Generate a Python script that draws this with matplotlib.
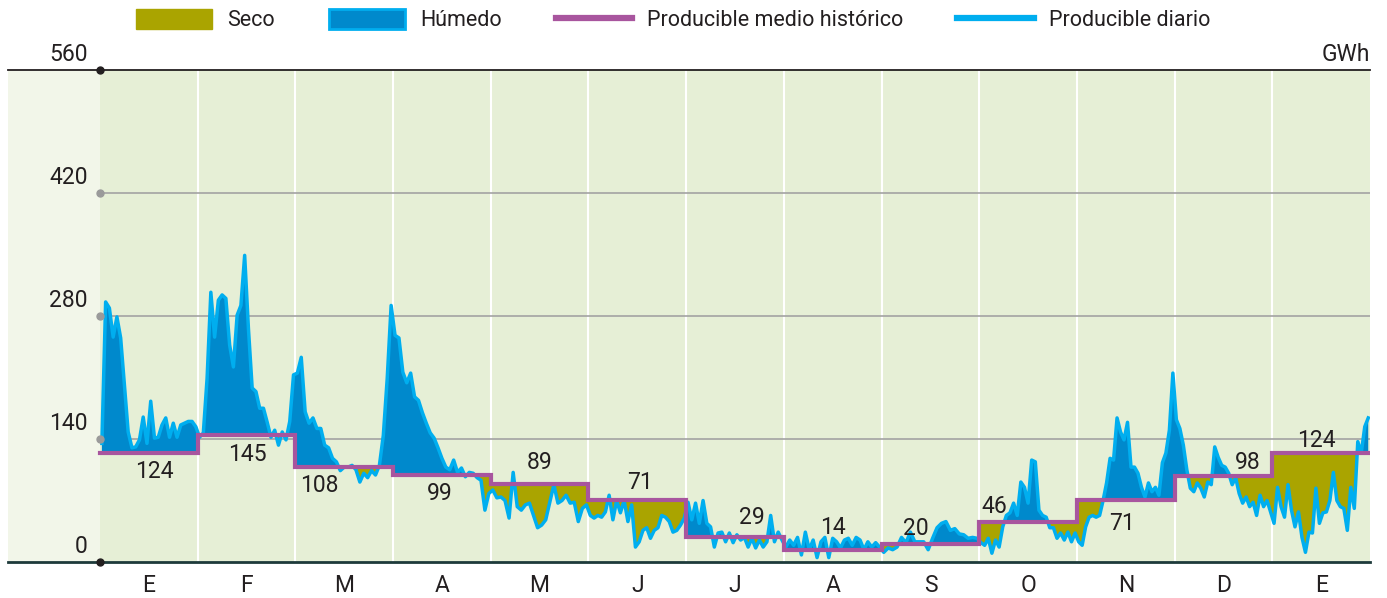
import numpy as np
import matplotlib
matplotlib.use("Agg")
import matplotlib.pyplot as plt
from matplotlib.patches import Patch
from matplotlib.lines import Line2D

# ---------------- data ----------------
months = ["E", "F", "M", "A", "M", "J", "J", "A", "S", "O", "N", "D", "E"]
hist_mean = [124, 145, 108, 99, 89, 71, 29, 14, 20, 46, 71, 98, 124]

daily_jan = [135, 296, 289, 256, 279, 255, 201, 148, 130, 131, 139, 165, 135, 183, 141,
             142, 156, 164, 142, 158, 142, 156, 158, 160, 160, 154]
daily_feb = [142, 147, 209, 307, 256, 298, 304, 300, 247, 222, 281, 292, 349, 266, 198,
             194, 175, 175, 159, 142, 150, 133, 148, 139, 160, 213]
daily_mar = [215, 233, 171, 158, 164, 152, 152, 133, 130, 118, 114, 104, 108, 108, 110,
             105, 91, 101, 96, 104, 99, 110, 144, 209, 292]
daily_apr = [258, 255, 216, 204, 215, 188, 184, 170, 158, 147, 141, 130, 118, 108, 105,
             116, 102, 107, 97, 102, 101, 96, 93, 59, 78]
daily_may = [82, 73, 74, 70, 50, 102, 63, 59, 65, 67, 53, 39, 42, 48, 68, 88, 67, 70,
             76, 67, 68, 46, 61, 65]
daily_jun = [53, 50, 53, 51, 57, 76, 48, 70, 56, 70, 46, 65, 17, 23, 36, 39, 27, 36,
             39, 53, 51, 46, 34, 36, 42, 50]
daily_jul = [68, 48, 67, 44, 70, 44, 40, 17, 33, 34, 23, 33, 22, 31, 25, 28, 17, 27,
             16, 25, 17, 23, 53, 23, 34, 25]
daily_aug = [17, 25, 19, 28, 8, 34, 14, 25, 5, 23, 28, 5, 27, 23, 16, 25, 27, 19, 28,
             25, 14, 23, 17, 22, 17]
daily_sep = [11, 16, 14, 17, 28, 22, 34, 23, 23, 23, 14, 27, 39, 44, 46, 36, 38, 32,
             31, 27, 28, 27]
daily_oct = [22, 19, 27, 10, 25, 17, 40, 53, 56, 67, 53, 91, 85, 67, 116, 114, 59, 53,
             51, 39, 39, 27, 33, 25, 34, 23, 33]
daily_nov = [23, 19, 40, 51, 53, 51, 53, 70, 90, 118, 116, 164, 148, 139, 159, 108, 108,
             101, 85, 74, 90, 80, 85, 76, 113, 124, 150, 215]
daily_dec = [162, 152, 133, 105, 84, 80, 90, 84, 74, 91, 88, 131, 119, 110, 108, 101, 88,
             96, 78, 67, 74, 63, 68, 53, 76, 63, 70, 57]
daily_jan2 = [44, 85, 63, 51, 88, 59, 40, 57, 28, 11, 34, 33, 84, 44, 56, 57, 70, 102,
              70, 63, 61, 36, 85, 61, 137, 124, 154, 164]

daily_by_month = [daily_jan, daily_feb, daily_mar, daily_apr, daily_may, daily_jun,
                  daily_jul, daily_aug, daily_sep, daily_oct, daily_nov, daily_dec,
                  daily_jan2]

y_ticks = [0, 140, 280, 420, 560]

# label placement (style): fraction within month, offset in px (+ above / - below)
label_frac = [0.56, 0.51, 0.25, 0.48, 0.50, 0.53, 0.67, 0.50, 0.35, 0.15, 0.46, 0.75, 0.45]
label_off = [-18, -20, -18, -18, 21, 17, 19, 22, 16, 15, -24, 13, 13]

# ---------------- style ----------------
C_SECO = "#aaa400"
C_HUM = "#0089cc"
C_LINE = "#00aeef"
C_MEAN = "#a8559e"
C_BG = "#e6efd6"
C_MARGIN = "#f2f6e9"
C_TEXT = "#231f20"
FONT = ["Roboto", "DejaVu Sans"]
FS = 16.5
FS_LEG = 15.5
plt.rcParams["font.family"] = FONT

DPI = 100
def px(p):
    return p * 72.0 / DPI

fig = plt.figure(figsize=(13.87, 5.98), dpi=DPI)
W, H = 1387.0, 598.0
ax_left_px, ax_right_px = 8.0, 1370.0
ax_top_px, ax_bot_px = 70.0, 562.0
ax = fig.add_axes([ax_left_px / W, (H - ax_bot_px) / H,
                   (ax_right_px - ax_left_px) / W, (ax_bot_px - ax_top_px) / H])

n_months = len(months)
month_px = (1370.0 - 100.0) / n_months
x_left = -(100.0 - ax_left_px) / month_px
ax.set_xlim(x_left, n_months)
ax.set_ylim(0, 560)
ax.axis("off")

# backgrounds
ax.axvspan(x_left, 0, color=C_MARGIN, zorder=0, lw=0)
ax.axvspan(0, n_months, color=C_BG, zorder=0, lw=0)
for m in range(1, n_months):
    ax.axvline(m, color="white", lw=1.5, zorder=1)

# gridlines
for v in y_ticks[1:-1]:
    ax.plot([0, n_months], [v, v], color="#a3a3a3", lw=1.2, zorder=1)
ax.plot([x_left, n_months], [560, 560], color="#231f20", lw=1.3, zorder=6, clip_on=False)
ax.plot([x_left, n_months], [0, 0], color="#1d3a3a", lw=2.0, zorder=6, clip_on=False)

# daily series x positions
xs, ys = [], []
for m, vals in enumerate(daily_by_month):
    n = len(vals)
    for i, v in enumerate(vals):
        xs.append(m + (i + 0.5) / n)
        ys.append(v)
xs = np.array(xs)
ys = np.array(ys, dtype=float)
means = np.array(hist_mean, dtype=float)

# fine grid for accurate fill against step level
xf = np.linspace(xs[0], xs[-1], 40000)
yf = np.interp(xf, xs, ys)
lf = means[np.clip(np.floor(xf).astype(int), 0, n_months - 1)]
ax.fill_between(xf, yf, lf, where=yf >= lf, interpolate=True, color=C_HUM, lw=0, zorder=2)
ax.fill_between(xf, yf, lf, where=yf < lf, interpolate=True, color=C_SECO, lw=0, zorder=2)

ax.plot(xs, ys, color=C_LINE, lw=2.5, zorder=3, solid_joinstyle="round")

edges = np.arange(n_months + 1)
ax.step(edges, np.append(means, means[-1]), where="post", color=C_MEAN, lw=3.0,
        zorder=4, solid_joinstyle="miter")

# value labels
for m, v in enumerate(hist_mean):
    off = label_off[m]
    ax.annotate(str(v), (m + label_frac[m], v), xytext=(0, px(off)),
                textcoords="offset points", ha="center", va="center",
                fontsize=FS, color=C_TEXT, zorder=7)

# y tick labels and dots
for v in y_ticks:
    col = "#231f20" if v in (0, 560) else "#9a9a9a"
    ax.plot([0], [v], "o", color=col, ms=5, zorder=7, clip_on=False)
    ax.annotate(str(v), (0, v), xytext=(px(-12), px(4)), textcoords="offset points",
                ha="right", va="bottom", fontsize=FS, color=C_TEXT)

ax.annotate("GWh", (n_months, 560), xytext=(0, px(4)), textcoords="offset points",
            ha="right", va="bottom", fontsize=FS, color=C_TEXT)

# month labels
for m, lab in enumerate(months):
    ax.annotate(lab, (m + 0.5, 0), xytext=(0, px(-24)), textcoords="offset points",
                ha="center", va="center", fontsize=FS, color=C_TEXT, annotation_clip=False)

# legend
handles = [Patch(facecolor=C_SECO, edgecolor=C_SECO),
           Patch(facecolor=C_HUM, edgecolor=C_LINE, lw=2),
           Line2D([], [], color=C_MEAN, lw=4.5),
           Line2D([], [], color=C_LINE, lw=4.5)]
labels = ["Seco", "Húmedo", "Producible medio histórico", "Producible diario"]
fig.legend(handles, labels, loc="upper left", bbox_to_anchor=(136 / W, 1 - 9 / H),
           ncol=4, frameon=False, fontsize=FS_LEG, handlelength=3.55, handleheight=1.05,
           handletextpad=0.7, columnspacing=2.5, borderpad=0, borderaxespad=0,
           labelcolor=C_TEXT)

fig.savefig("out.png", dpi=DPI, facecolor="white")
